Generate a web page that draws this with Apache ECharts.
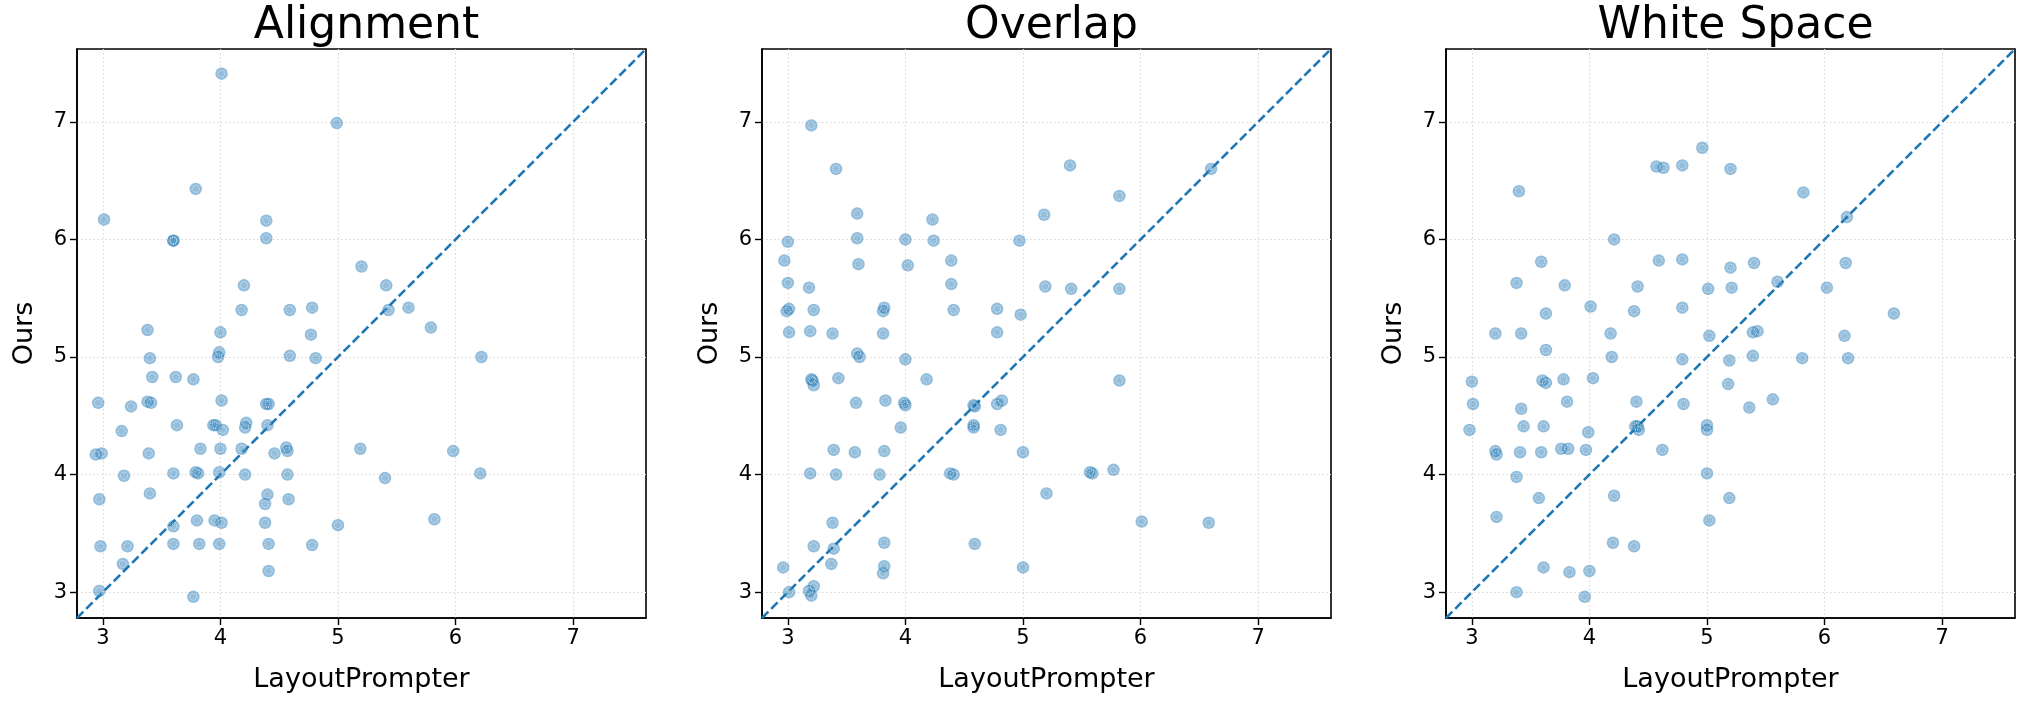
<!DOCTYPE html>
<html><head><meta charset="utf-8">
<script src="https://cdn.jsdelivr.net/npm/echarts@6/dist/echarts.min.js"></script>
<style>html,body{margin:0;padding:0;background:#fff}#c{width:2018px;height:704px}</style>
</head><body><div id="c"></div>
<script>
// ---- data ----
const panelTitles = ['Alignment', 'Overlap', 'White Space'];
const xAxisName = 'LayoutPrompter';
const yAxisName = 'Ours';
const tickValues = [3, 4, 5, 6, 7];
const axisMin = 2.78;
const axisMax = 7.62;

const alignX = [4.01,4.99,3.79,3.01,3.60,3.60,4.39,4.39,5.20,4.20,4.18,4.59,4.78,3.38,4.00,4.77,5.41,5.43,5.60,5.79,
3.40,3.99,3.98,4.59,4.81,3.42,3.62,3.77,2.96,3.24,3.38,3.41,4.01,4.39,4.41,3.16,3.63,3.94,3.96,4.02,
4.22,4.21,4.40,2.94,2.99,3.39,3.83,4.00,4.18,4.46,4.56,4.57,5.19,3.18,3.60,3.79,3.81,3.99,4.21,4.57,
2.97,3.40,4.40,4.38,4.58,3.60,3.80,3.95,4.01,4.38,5.00,2.98,3.21,3.60,3.82,3.99,4.41,4.78,3.17,4.41,
2.97,3.77,6.22,5.98,5.40,6.21,5.82];
const alignY = [7.41,6.99,6.43,6.17,5.99,5.99,6.16,6.01,5.77,5.61,5.40,5.40,5.42,5.23,5.21,5.19,5.61,5.40,5.42,5.25,
4.99,5.04,5.00,5.01,4.99,4.83,4.83,4.81,4.61,4.58,4.62,4.61,4.63,4.60,4.60,4.37,4.42,4.42,4.42,4.38,
4.44,4.40,4.42,4.17,4.18,4.18,4.22,4.22,4.22,4.18,4.23,4.20,4.22,3.99,4.01,4.02,4.01,4.02,4.00,4.00,
3.79,3.84,3.83,3.75,3.79,3.56,3.61,3.61,3.59,3.59,3.57,3.39,3.39,3.41,3.41,3.41,3.41,3.40,3.24,3.18,
3.01,2.96,5.00,4.20,3.97,4.01,3.62];

const overlapX = [3.20,3.41,3.59,4.23,5.18,3.00,3.59,4.00,4.24,4.97,2.97,3.60,4.02,4.39,3.00,3.18,4.39,5.19,2.99,3.01,
3.22,3.81,3.82,4.41,4.78,4.98,3.01,3.19,3.38,3.81,4.78,5.40,5.82,6.60,5.41,5.82,3.59,3.61,4.00,3.20,
3.21,3.22,3.43,4.18,3.58,3.83,3.99,4.00,4.59,4.58,4.78,4.82,3.96,4.58,4.58,4.81,3.39,3.57,3.82,5.00,
3.19,3.41,3.78,4.38,4.41,5.20,3.38,3.22,3.39,3.82,4.59,2.96,3.37,3.82,3.81,5.00,3.01,3.18,3.22,3.20,
5.82,5.57,5.59,5.77,6.01,6.58];
const overlapY = [6.97,6.60,6.22,6.17,6.21,5.98,6.01,6.00,5.99,5.99,5.82,5.79,5.78,5.82,5.63,5.59,5.62,5.60,5.39,5.41,
5.40,5.39,5.42,5.40,5.41,5.36,5.21,5.22,5.20,5.20,5.21,6.63,6.37,6.60,5.58,5.58,5.03,5.00,4.98,4.81,
4.80,4.76,4.82,4.81,4.61,4.63,4.61,4.59,4.58,4.59,4.60,4.63,4.40,4.42,4.40,4.38,4.21,4.19,4.20,4.19,
4.01,4.00,4.00,4.01,4.00,3.84,3.59,3.39,3.37,3.42,3.41,3.21,3.24,3.22,3.16,3.21,3.00,3.01,3.05,2.97,
4.80,4.02,4.01,4.04,3.60,3.59];

const whiteX = [3.40,4.57,4.63,4.79,4.96,5.20,4.21,3.59,4.59,4.79,5.20,3.38,3.79,4.41,5.01,5.21,3.63,4.01,4.38,4.79,
3.20,3.42,4.18,5.02,5.82,6.19,5.40,6.18,5.60,6.02,6.59,5.39,5.43,6.17,3.63,4.19,4.79,5.19,3.00,3.60,
3.63,3.78,4.03,5.18,3.01,3.42,3.81,4.40,4.80,2.98,3.44,3.61,3.99,4.39,4.41,4.42,5.00,5.00,3.20,3.21,
3.41,3.59,3.76,3.82,3.97,4.62,3.38,5.00,3.57,4.21,5.19,3.21,5.02,4.20,4.38,3.61,3.83,4.00,3.38,3.96,
5.39,5.81,6.20,5.36,5.56];
const whiteY = [6.41,6.62,6.61,6.63,6.78,6.60,6.00,5.81,5.82,5.83,5.76,5.63,5.61,5.60,5.58,5.59,5.37,5.43,5.39,5.42,
5.20,5.20,5.20,5.18,6.40,6.19,5.80,5.80,5.64,5.59,5.37,5.21,5.22,5.18,5.06,5.00,4.98,4.97,4.79,4.80,
4.78,4.81,4.82,4.77,4.60,4.56,4.62,4.62,4.60,4.38,4.41,4.41,4.36,4.41,4.41,4.38,4.42,4.38,4.20,4.17,
4.19,4.19,4.22,4.22,4.21,4.21,3.98,4.01,3.80,3.82,3.80,3.64,3.61,3.42,3.39,3.21,3.17,3.18,3.00,2.96,
5.01,4.99,4.99,4.57,4.64];

// ---- layout / style ----
const F = 'DejaVu Sans';
const panelLeft = [77, 762, 1446];
const panelW = 569, panelTop = 49, panelH = 569;
const C0 = '#1f77b4';

const panels = [[alignX, alignY], [overlapX, overlapY], [whiteX, whiteY]];

const grids = [], xAxes = [], yAxes = [], titles = [], series = [];
panels.forEach(([xs, ys], i) => {
  grids.push({left: panelLeft[i], top: panelTop, width: panelW, height: panelH,
    show: true, borderColor: '#000', borderWidth: 1.6, backgroundColor: 'transparent'});
  titles.push({text: panelTitles[i], left: panelLeft[i] + panelW / 2, textAlign: 'center', top: 0,
    textStyle: {fontFamily: F, fontSize: 44, fontWeight: 'normal', color: '#000'}});
  const common = {
    gridIndex: i, type: 'value', min: axisMin, max: axisMax,
    nameLocation: 'middle',
    nameTextStyle: {fontFamily: F, fontSize: 27, color: '#000'},
    axisLine: {show: true, onZero: false, lineStyle: {color: '#000', width: 1.6}},
    axisTick: {show: true, inside: false, length: 7, customValues: tickValues, lineStyle: {color: '#000', width: 1.4}},
    axisLabel: {show: true, customValues: tickValues, color: '#000', fontFamily: F, fontSize: 21, margin: 10,
      formatter: v => String(v)},
    splitLine: {show: true, lineStyle: {color: '#d8d8d8', width: 1.2, type: [1.5, 2.5]}}
  };
  xAxes.push(Object.assign({}, common, {name: xAxisName, nameGap: 48}));
  yAxes.push(Object.assign({}, common, {name: yAxisName, nameGap: 39}));
  const pts = xs.map((x, k) => [x, ys[k]]);
  series.push({type: 'line', xAxisIndex: i, yAxisIndex: i, silent: true, symbol: 'none',
    data: [[axisMin, axisMin], [axisMax, axisMax]], clip: true,
    lineStyle: {color: C0, width: 2.6, type: [9, 4]}, z: 3});
  series.push({type: 'scatter', xAxisIndex: i, yAxisIndex: i, data: pts, symbol: 'circle', symbolSize: 12.5,
    itemStyle: {color: 'rgba(31,119,180,0.6)', borderWidth: 0}, z: 4, emphasis: {disabled: true}});
  series.push({type: 'scatter', xAxisIndex: i, yAxisIndex: i, data: pts, symbol: 'circle', symbolSize: 7,
    itemStyle: {color: 'rgba(0,0,0,0)', borderColor: 'rgba(255,255,255,0.85)', borderWidth: 1, borderType: [1.2, 1.2]},
    z: 5, emphasis: {disabled: true}});
});

const chart = echarts.init(document.getElementById('c'), null, {renderer: 'canvas'});
chart.setOption({
  animation: false,
  backgroundColor: '#fff',
  title: titles,
  grid: grids,
  xAxis: xAxes,
  yAxis: yAxes,
  series: series
});
</script>
</body></html>
